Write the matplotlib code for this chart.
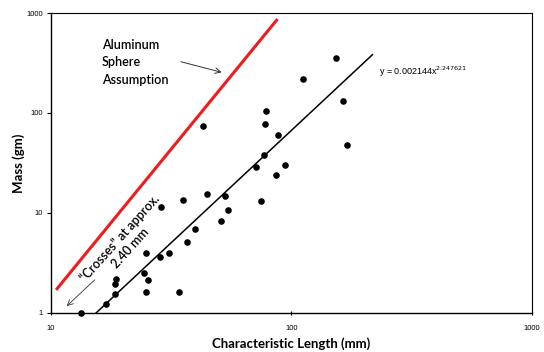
import numpy as np
import matplotlib
matplotlib.use("Agg")
from matplotlib import pyplot as plt

# measured specimens: characteristic length (mm) and mass (gm)
length_mm = [13.3, 16.9, 18.5, 18.5, 18.7, 24.4, 25.4, 24.9, 24.9, 28.7,
             28.5, 31.0, 34.1, 35.5, 36.9, 39.8, 44.7, 51.1, 53.1, 54.6,
             75.0, 43.0, 78.7, 77.9, 88.3, 77.2, 71.5, 94.4, 86.6, 152.5,
             111.2, 163.1, 169.5]
mass_gm = [1.0, 1.23, 1.55, 1.95, 2.19, 2.51, 2.14, 3.98, 1.62, 11.5,
           3.63, 3.98, 1.62, 13.5, 5.13, 6.92, 15.5, 8.32, 14.8, 10.7,
           13.2, 74.1, 104.7, 77.6, 60.3, 38.0, 28.8, 30.2, 24.0, 355.0,
           219.0, 132.0, 47.9]

# power-law fit shown on the chart
fit_coef = 0.002144
fit_exp = 2.247621
fit_range = [15.0, 217.0]

# aluminum sphere line (end points)
sphere_x = [10.5, 87.5]
sphere_y = [1.7, 870.0]

label_font = "Lato"
num_font = "Liberation Sans"

fig = plt.figure(figsize=(5.44, 3.52), dpi=100)
ax = fig.add_axes([0.0938, 0.111, 0.884, 0.852])
ax.set_xscale("log")
ax.set_yscale("log")
ax.set_xlim(10, 1000)
ax.set_ylim(1, 1000)

ax.plot(sphere_x, sphere_y, color="#ee1c1c", lw=2.2, solid_capstyle="butt")

xf = np.geomspace(fit_range[0], fit_range[1], 100)
ax.plot(xf, fit_coef * xf ** fit_exp, color="black", lw=1.1)

ax.scatter(length_mm, mass_gm, s=14, color="black", zorder=3, clip_on=False)

ax.text(232, 257, r"y = 0.002144x$^{2.247621}$", fontsize=6.5,
        family=num_font, va="center", ha="left")

ax.text(16.3, 550, "Aluminum\nSphere\nAssumption", fontsize=9,
        family=label_font, fontweight="semibold", va="top", ha="left",
        linespacing=1.55)
ax.annotate("", xy=(52.6, 251), xytext=(33.8, 331),
            arrowprops=dict(arrowstyle="->", lw=0.7, color="#333333"))

ax.text(20.3, 5.0, "\u201cCrosses\u201d at approx.\n2.40 mm", fontsize=9,
        family=label_font, fontweight="semibold", rotation=48,
        rotation_mode="anchor", ha="center", va="center", linespacing=1.2)
ax.annotate("", xy=(11.4, 1.12), xytext=(15.5, 2.24),
            arrowprops=dict(arrowstyle="->", lw=0.6, color="#333333"))

ax.set_xticks([10, 100, 1000])
ax.set_xticklabels(["10", "100", "1000"])
ax.set_yticks([1, 10, 100, 1000])
ax.set_yticklabels(["1", "10", "100", "1000"])
ax.minorticks_off()
ax.tick_params(axis="both", labelsize=5.5, length=3, width=0.8, pad=3)
for lab in ax.get_xticklabels() + ax.get_yticklabels():
    lab.set_family(num_font)
ax.tick_params(axis="x", direction="inout", pad=7)

for side in ["left", "bottom"]:
    ax.spines[side].set_linewidth(1.0)
for side in ["top", "right"]:
    ax.spines[side].set_linewidth(0.8)

ax.set_xlabel("Characteristic Length (mm)", fontsize=9.5, family=label_font,
              fontweight="bold", labelpad=4)
ax.set_ylabel("Mass (gm)", fontsize=9.5, family=label_font,
              fontweight="bold", labelpad=1)

fig.savefig("out.png", dpi=100)
